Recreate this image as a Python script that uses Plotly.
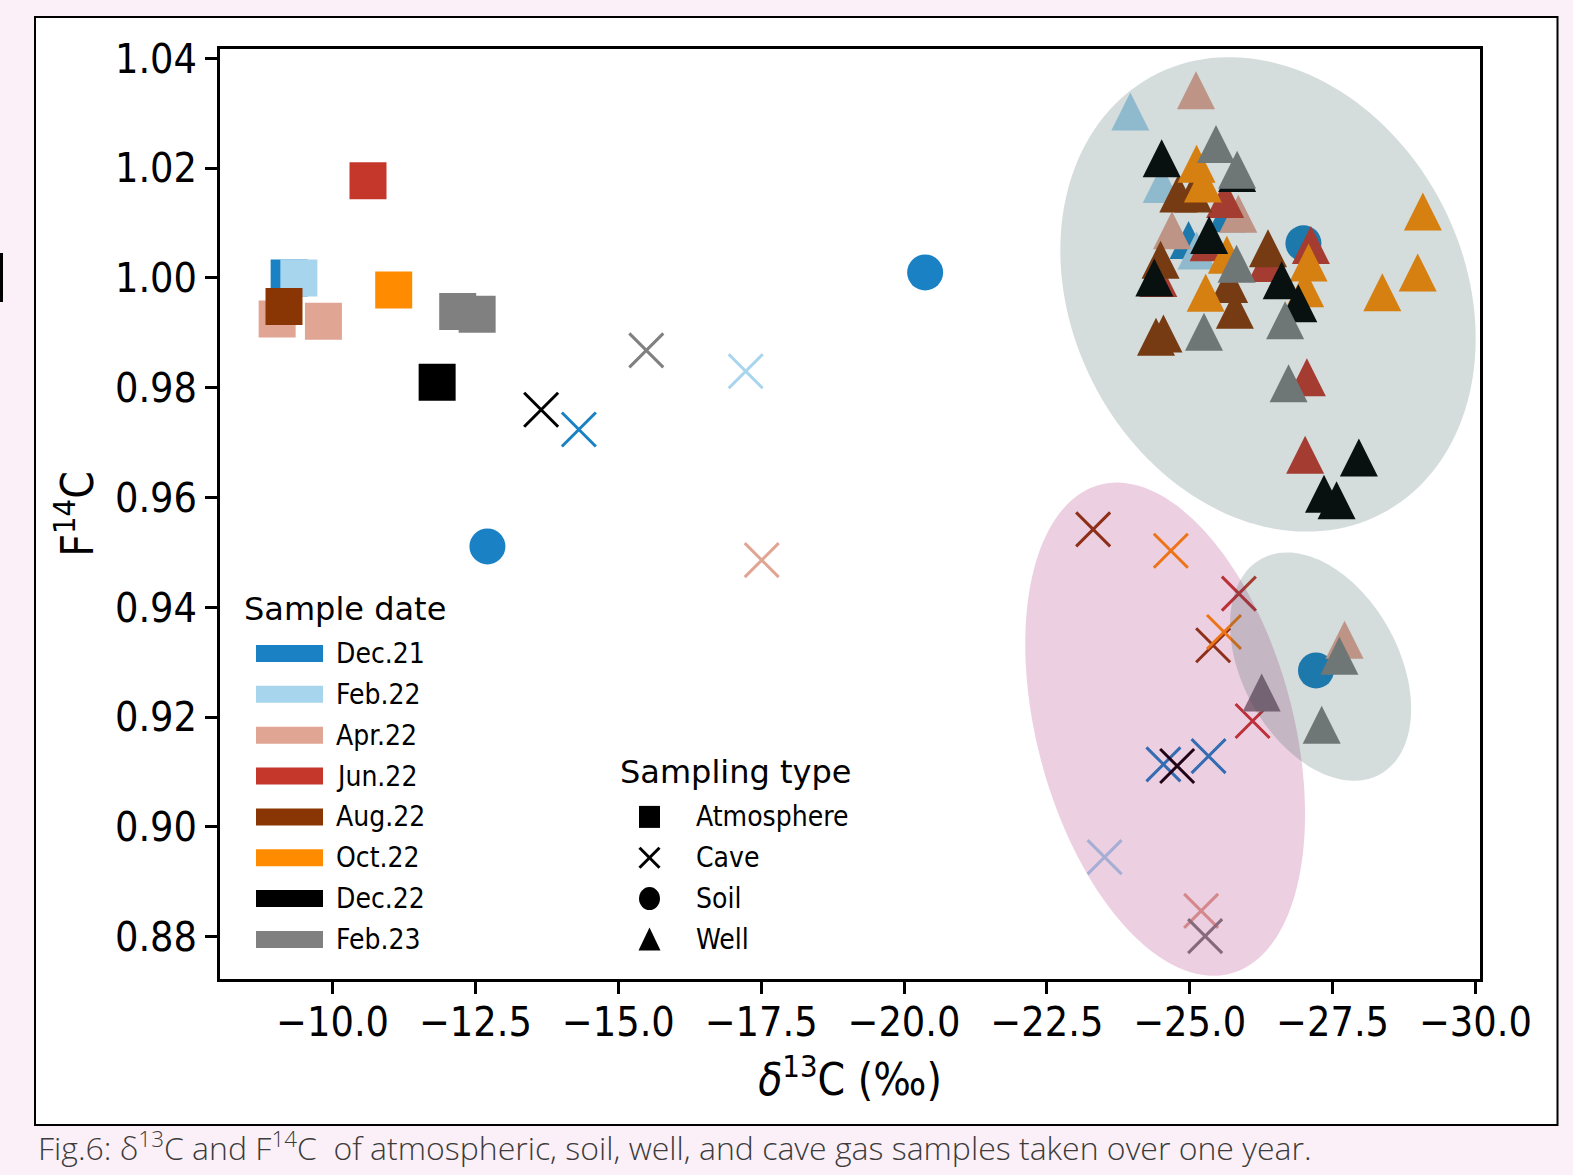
import numpy as np
import plotly.graph_objects as go

# ---------------- data ----------------
date_labels = ["Dec.21", "Feb.22", "Apr.22", "Jun.22", "Aug.22", "Oct.22", "Dec.22", "Feb.23"]
date_colors = ["#1a82c4", "#a8d5ee", "#e1a593", "#c4372a", "#8a3604", "#ff8c00", "#000000", "#808080"]
type_labels = ["Atmosphere", "Cave", "Soil", "Well"]

atm_date = ["Dec.21", "Feb.22", "Apr.22", "Apr.22", "Jun.22", "Aug.22", "Oct.22", "Dec.22", "Feb.23", "Feb.23"]
atm_d13c = [-9.24, -9.41, -9.03, -9.84, -10.62, -9.15, -11.07, -11.83, -12.19, -12.53]
atm_f14c = [1.000, 1.000, 0.9925, 0.9921, 1.0177, 0.9948, 0.9978, 0.9810, 0.9939, 0.9934]

cave_date = ["Dec.21", "Dec.21", "Dec.21", "Feb.22", "Feb.22", "Apr.22", "Apr.22", "Jun.22", "Jun.22",
             "Aug.22", "Aug.22", "Oct.22", "Oct.22", "Dec.22", "Dec.22", "Feb.23", "Feb.23"]
cave_d13c = [-14.31, -24.54, -25.33, -17.23, -23.51, -17.51, -25.20, -25.86, -26.10,
             -23.31, -25.41, -24.67, -25.60, -13.65, -24.78, -15.49, -25.27]
cave_f14c = [0.9724, 0.9114, 0.9129, 0.9830, 0.8945, 0.9486, 0.8847, 0.9425, 0.9193,
             0.9542, 0.9331, 0.9503, 0.9355, 0.9760, 0.9111, 0.9868, 0.8801]

soil_date = ["Dec.21", "Dec.21", "Dec.21", "Dec.21"]
soil_d13c = [-20.37, -12.71, -26.99, -27.21]
soil_f14c = [1.0010, 0.9511, 1.0063, 0.9285]

well_date = (["Dec.21"] * 2 + ["Feb.22"] * 3 + ["Apr.22"] * 4 + ["Jun.22"] * 7 +
             ["Aug.22"] * 8 + ["Oct.22"] * 9 + ["Dec.22"] * 9 + ["Feb.23"] * 9)
well_d13c = [-24.98, -25.65,
             -23.96, -24.51, -25.12,
             -25.11, -25.85, -24.69, -27.71,
             -25.62, -25.33, -24.45, -26.35, -27.12, -27.05, -27.02,
             -24.80, -25.06, -24.49, -26.37, -25.79, -25.69, -24.41, -24.54,
             -25.12, -25.23, -25.65, -27.08, -27.02, -25.28, -29.08, -28.99, -28.37,
             -24.51, -25.83, -25.34, -24.38, -26.61, -26.90, -27.96, -27.35, -27.57,
             -25.46, -25.83, -25.82, -26.67, -25.25, -26.73, -26.26, -27.62, -27.31]
well_f14c = [1.0069, 1.0118,
             1.0303, 1.0171, 1.0050,
             1.0342, 1.0117, 1.0087, 0.9341,
             1.0144, 1.0065, 1.0000, 1.0027, 1.0060, 0.9819, 0.9678,
             1.0154, 1.0154, 1.0033, 1.0054, 0.9942, 0.9989, 0.9893, 0.9899,
             1.0208, 1.0172, 1.0042, 1.0028, 0.9981, 0.9973, 1.0121, 1.0010, 0.9974,
             1.0218, 1.0191, 1.0078, 1.0001, 0.9996, 0.9954, 0.9673, 0.9607, 0.9595,
             1.0244, 1.0197, 1.0026, 0.9923, 0.9902, 0.9808, 0.9245, 0.9312, 0.9186]

x_ticks = [-10.0, -12.5, -15.0, -17.5, -20.0, -22.5, -25.0, -27.5, -30.0]
y_ticks = [0.88, 0.90, 0.92, 0.94, 0.96, 0.98, 1.00, 1.02, 1.04]

# cluster ellipses (centre in data units, semi-axes in px, tilt in deg)
ellipses = [
    dict(cx=-26.37, cy=0.9970, a=247, b=196, ang=62.8, color="rgba(47,79,79,0.2)"),
    dict(cx=-24.57, cy=0.9178, a=253, b=128, ang=75.0, color="rgba(160,20,110,0.2)"),
    dict(cx=-27.29, cy=0.9292, a=123, b=78, ang=61.1, color="rgba(47,79,79,0.2)"),
]

# ---------------- layout constants ----------------
W, H = 1573, 1175
PL, PT, PW, PH = 220, 49, 1260, 930
X_RANGE = [-8.03, -30.08]
Y_RANGE = [0.8723, 1.0417]
px_per_x = PW / abs(X_RANGE[1] - X_RANGE[0])
px_per_y = PH / (Y_RANGE[1] - Y_RANGE[0])
FONT = "DejaVu Sans Condensed, DejaVu Sans, sans-serif"
TFONT = "DejaVu Sans, sans-serif"
BG = "#fbf0f7"

sizes = {"Atmosphere": 37, "Cave": 34, "Soil": 36, "Well": 38}
symbols = {"Atmosphere": "square", "Cave": "x-thin-open", "Soil": "circle", "Well": "arrow-up"}
# arrow-up is anchored at its apex: draw wells on an overlay axis shifted by half the marker height
tri_shift = (sizes["Well"] / 2) / px_per_y


def px2x(px):
    return (px - PL) / PW


def py2y(py):
    return 1 - (py - PT) / PH


series = {
    "Atmosphere": (atm_date, atm_d13c, atm_f14c),
    "Cave": (cave_date, cave_d13c, cave_f14c),
    "Soil": (soil_date, soil_d13c, soil_f14c),
    "Well": (well_date, well_d13c, well_f14c),
}

fig = go.Figure()
for dlab, col in zip(date_labels, date_colors):
    for t in type_labels:
        dates, xs, ys = series[t]
        px_ = [x for d, x in zip(dates, xs) if d == dlab]
        py_ = [y for d, y in zip(dates, ys) if d == dlab]
        if not px_:
            continue
        marker = dict(symbol=symbols[t], size=sizes[t], color=col, line=dict(width=0))
        if t == "Cave":
            marker["line"] = dict(width=3, color=col)
        fig.add_trace(go.Scatter(
            x=px_, y=py_, mode="markers", marker=marker, name=f"{dlab} {t}",
            showlegend=False, yaxis="y2" if t == "Well" else "y",
        ))

shapes = []
# slide panel
shapes.append(dict(type="rect", xref="paper", yref="paper",
                   x0=px2x(35), x1=px2x(1557.5), y0=py2y(1125), y1=py2y(17),
                   fillcolor="white", line=dict(color="black", width=2), layer="below"))
shapes.append(dict(type="rect", xref="paper", yref="paper",
                   x0=px2x(0), x1=px2x(3), y0=py2y(302), y1=py2y(253),
                   fillcolor="black", line=dict(width=0), layer="below"))

for e in ellipses:
    tt = np.linspace(0, 2 * np.pi, 160)
    th = np.deg2rad(e["ang"])
    dxp = e["a"] * np.cos(th) * np.cos(tt) - e["b"] * np.sin(th) * np.sin(tt)
    dyp = e["a"] * np.sin(th) * np.cos(tt) + e["b"] * np.cos(th) * np.sin(tt)
    xs = e["cx"] - dxp / px_per_x
    ys = e["cy"] - dyp / px_per_y
    path = "M " + " L ".join(f"{x:.4f},{y:.5f}" for x, y in zip(xs, ys)) + " Z"
    shapes.append(dict(type="path", xref="x", yref="y", path=path,
                       fillcolor=e["color"], line=dict(width=0), layer="above"))

annotations = []
# legend 1 : sample date
row0, step = 653.5, 40.85
annotations.append(dict(text="Sample date", xref="paper", yref="paper", x=px2x(242), y=py2y(609),
                        xanchor="left", yanchor="middle", showarrow=False,
                        font=dict(family=TFONT, size=32, color="black")))
for i, (lab, col) in enumerate(zip(date_labels, date_colors)):
    yc = row0 + i * step
    shapes.append(dict(type="rect", xref="paper", yref="paper",
                       x0=px2x(256), x1=px2x(323), y0=py2y(yc + 8.5), y1=py2y(yc - 8.5),
                       fillcolor=col, line=dict(width=0), layer="above"))
    annotations.append(dict(text=lab, xref="paper", yref="paper", x=px2x(334), y=py2y(yc),
                            xanchor="left", yanchor="middle", showarrow=False,
                            font=dict(family=FONT, size=28, color="black")))

# legend 2 : sampling type
annotations.append(dict(text="Sampling type", xref="paper", yref="paper", x=px2x(618), y=py2y(772),
                        xanchor="left", yanchor="middle", showarrow=False,
                        font=dict(family=TFONT, size=32, color="black")))
sx = 649.5
for i, lab in enumerate(type_labels):
    yc = row0 + (i + 4) * step
    if lab == "Atmosphere":
        shapes.append(dict(type="rect", xref="paper", yref="paper",
                           x0=px2x(sx - 10.5), x1=px2x(sx + 10.5), y0=py2y(yc + 11), y1=py2y(yc - 11),
                           fillcolor="black", line=dict(width=0), layer="above"))
    elif lab == "Cave":
        for s in (1, -1):
            shapes.append(dict(type="line", xref="paper", yref="paper",
                               x0=px2x(sx - 10), x1=px2x(sx + 10), y0=py2y(yc - 10 * s), y1=py2y(yc + 10 * s),
                               line=dict(color="black", width=3), layer="above"))
    elif lab == "Soil":
        shapes.append(dict(type="circle", xref="paper", yref="paper",
                           x0=px2x(sx - 10.5), x1=px2x(sx + 10.5), y0=py2y(yc + 11.5), y1=py2y(yc - 11.5),
                           fillcolor="black", line=dict(width=0), layer="above"))
    else:
        p = (f"M {px2x(sx):.5f},{py2y(yc - 12):.5f} L {px2x(sx - 11):.5f},{py2y(yc + 11):.5f} "
             f"L {px2x(sx + 11):.5f},{py2y(yc + 11):.5f} Z")
        shapes.append(dict(type="path", xref="paper", yref="paper", path=p,
                           fillcolor="black", line=dict(width=0), layer="above"))
    annotations.append(dict(text=lab, xref="paper", yref="paper", x=px2x(694), y=py2y(yc),
                            xanchor="left", yanchor="middle", showarrow=False,
                            font=dict(family=FONT, size=28, color="black")))

# caption
annotations.append(dict(
    text="Fig.6: δ<sup>13</sup>C and F<sup>14</sup>C&nbsp; of atmospheric, soil, well, and cave gas samples taken over one year.",
    xref="paper", yref="paper", x=px2x(36), y=py2y(1146), xanchor="left", yanchor="middle",
    showarrow=False, font=dict(family="Open Sans", size=32, color="#3c3c3c", weight=300)))

axis_common = dict(showgrid=False, zeroline=False, showline=True, linecolor="black", linewidth=2.5,
                   mirror=True, ticks="outside", ticklen=12, tickwidth=2.5, tickcolor="black",
                   tickfont=dict(family=FONT, size=41, color="black"))

fig.update_layout(
    width=W, height=H, autosize=False,
    margin=dict(l=PL, r=W - PL - PW, t=PT, b=H - PT - PH, pad=0),
    paper_bgcolor=BG, plot_bgcolor="white",
    showlegend=False,
    xaxis=dict(range=X_RANGE, tickvals=x_ticks, tickformat=".1f", ticklabelstandoff=-7,
               title=dict(text="<i>δ</i><sup>13</sup>C (‰)", font=dict(family=FONT, size=44, color="black"), standoff=20),
               **axis_common),
    yaxis=dict(range=Y_RANGE, tickvals=y_ticks, tickformat=".2f",
               title=dict(text="F<sup>14</sup>C", font=dict(family=FONT, size=44, color="black"), standoff=8),
               **axis_common),
    yaxis2=dict(range=[Y_RANGE[0] - tri_shift, Y_RANGE[1] - tri_shift], overlaying="y",
                visible=False, showgrid=False, zeroline=False),
    shapes=shapes,
    annotations=annotations,
)

fig.write_html("out.html", config={"displayModeBar": False},
               post_script=f"document.body.style.margin='0';document.body.style.background='{BG}';")
